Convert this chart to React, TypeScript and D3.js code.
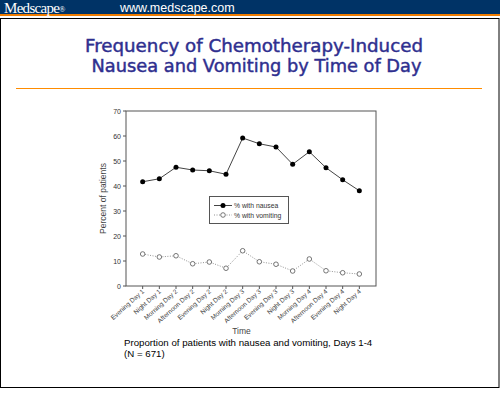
import React from "react";
import * as d3 from "d3";

const timepoints = [
  "Evening Day 1", "Night Day 1", "Morning Day 2", "Afternoon Day 2", "Evening Day 2",
  "Night Day 2", "Morning Day 3", "Afternoon Day 3", "Evening Day 3", "Night Day 3",
  "Morning Day 4", "Afternoon Day 4", "Evening Day 4", "Night Day 4",
];
const nausea = [41.7, 42.9, 47.5, 46.4, 46.1, 44.7, 59.2, 56.9, 55.6, 48.7, 53.7, 47.3, 42.5, 38.1];
const vomiting = [12.8, 11.6, 12.1, 8.9, 9.6, 7.1, 14.1, 9.7, 8.7, 6.0, 10.8, 6.1, 5.3, 4.8];
const yTicks = [0, 10, 20, 30, 40, 50, 60, 70];

const W = 500;
const H = 393;
const plot = { left: 126, right: 376, top: 111, bottom: 286 };
const arial = "Liberation Sans, Arial, sans-serif";

export default function App() {
  const x = d3.scalePoint<string>().domain(timepoints).range([plot.left, plot.right]).padding(1);
  const y = d3.scaleLinear().domain([0, 70]).range([plot.bottom, plot.top]);
  const line = d3
    .line<number>()
    .x((_d, i) => x(timepoints[i]) as number)
    .y((d) => y(d));

  return (
    <div style={{ position: "fixed", left: 0, top: 0 }}>
      <svg width={W} height={H} style={{ display: "block" }}>
        <rect width={W} height={H} fill="#fff" />
        {/* header band */}
        <rect x={0} y={0} width={W} height={14} fill="#003366" />
        <rect x={0} y={14} width={W} height={2} fill="#f07c00" />
        <text x={4} y={12.5} fill="#fff" fontFamily="Liberation Serif, Times New Roman, serif" fontSize={15} letterSpacing={-0.7}>
          Medscape
          <tspan fontSize={8} dy={-1}>®</tspan>
        </text>
        <text x={120} y={12} fill="#fff" fontFamily={arial} fontSize={12.5}>www.medscape.com</text>
        {/* slide frame */}
        <rect x={0.5} y={18.5} width={W - 1.5} height={369} fill="#fff" stroke="#000" strokeWidth={1} />

        {/* title */}
        <g fontFamily="DejaVu Sans, Verdana, sans-serif" fontSize={17.5} fill="#2f2f8f" stroke="#2f2f8f" strokeWidth={0.45}>
          <text x={85} y={52} textLength={338} lengthAdjust="spacingAndGlyphs">Frequency of Chemotherapy-Induced</text>
          <text x={91.5} y={72} textLength={330} lengthAdjust="spacingAndGlyphs">Nausea and Vomiting by Time of Day</text>
        </g>
        <line x1={16} x2={482} y1={88.5} y2={88.5} stroke="#ff8c00" strokeWidth={1.2} />

        {/* plot frame */}
        <rect x={plot.left} y={plot.top} width={plot.right - plot.left} height={plot.bottom - plot.top}
          fill="none" stroke="#555" strokeWidth={1} />

        {/* y axis */}
        <g fontFamily={arial} fontSize={7} fill="#333">
          {yTicks.map((t) => (
            <g key={t}>
              <line x1={plot.left - 3} x2={plot.left} y1={y(t)} y2={y(t)} stroke="#555" />
              <text x={plot.left - 5} y={y(t) + 2.5} textAnchor="end">{t}</text>
            </g>
          ))}
        </g>
        <text transform={`translate(106,${(plot.top + plot.bottom) / 2}) rotate(-90)`} textAnchor="middle"
          fontFamily={arial} fontSize={8.5} fill="#444">Percent of patients</text>

        {/* x axis */}
        <g fontFamily={arial} fontSize={6.5} fill="#444">
          {timepoints.map((c) => (
            <g key={c}>
              <line x1={x(c)} x2={x(c)} y1={plot.bottom} y2={plot.bottom + 3} stroke="#555" />
              <text transform={`translate(${(x(c) as number) + 2},${plot.bottom + 6}) rotate(-42)`} textAnchor="end">{c}</text>
            </g>
          ))}
        </g>
        <text x={241.5} y={334} textAnchor="middle" fontFamily={arial} fontSize={8.5} fill="#444">Time</text>

        {/* series */}
        <path d={line(vomiting) || ""} fill="none" stroke="#777" strokeWidth={0.8} strokeDasharray="1,1.5" />
        {vomiting.map((v, i) => (
          <circle key={"v" + i} cx={x(timepoints[i])} cy={y(v)} r={2.3} fill="#fff" stroke="#555" strokeWidth={0.8} />
        ))}
        <path d={line(nausea) || ""} fill="none" stroke="#444" strokeWidth={1} />
        {nausea.map((v, i) => (
          <circle key={"n" + i} cx={x(timepoints[i])} cy={y(v)} r={2.5} fill="#000" />
        ))}

        {/* legend */}
        <rect x={209.5} y={196.5} width={79} height={27} fill="#fff" stroke="#555" strokeWidth={1} />
        <line x1={214} x2={232} y1={205.5} y2={205.5} stroke="#444" />
        <circle cx={223} cy={205.5} r={2.5} fill="#000" />
        <line x1={214} x2={232} y1={215} y2={215} stroke="#777" strokeWidth={0.8} strokeDasharray="1,1.5" />
        <circle cx={223} cy={215} r={2.3} fill="#fff" stroke="#555" strokeWidth={0.8} />
        <g fontFamily={arial} fontSize={6.8} fill="#333">
          <text x={234} y={208}>% with nausea</text>
          <text x={234} y={217.5}>% with vomiting</text>
        </g>

        {/* caption */}
        <g fontFamily={arial} fontSize={9.7} fill="#000">
          <text x={124} y={346}>Proportion of patients with nausea and vomiting, Days 1-4</text>
          <text x={124} y={357}>(N = 671)</text>
        </g>
      </svg>
    </div>
  );
}
